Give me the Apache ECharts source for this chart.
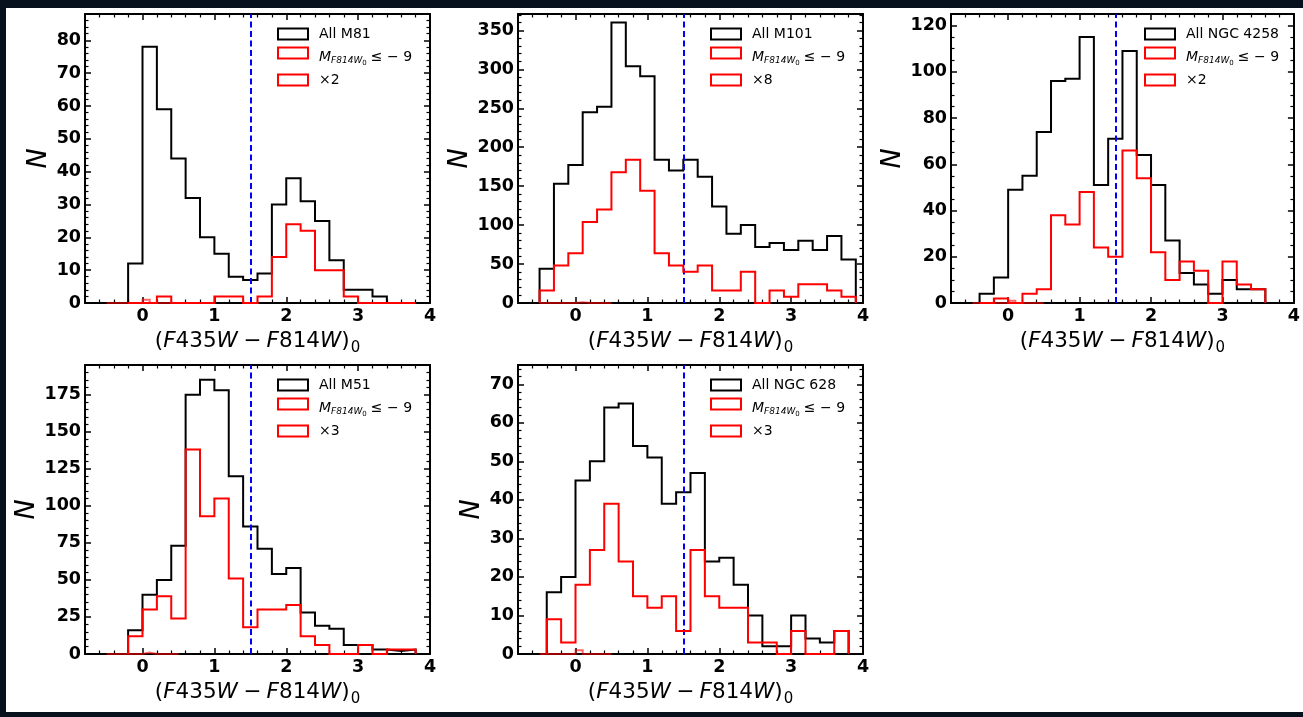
<!DOCTYPE html>
<html><head><meta charset="utf-8">
<script src="https://cdn.jsdelivr.net/npm/echarts@6/dist/echarts.min.js"></script>
<style>
html,body{margin:0;padding:0;width:1303px;height:717px;background:#07111d;overflow:hidden}
#chart{position:absolute;left:6px;top:8px;width:1297px;height:704px;background:#fff}
</style></head><body><div id="chart"></div>
<script>
// ---------------- data ----------------
const BIN = 0.2;
const xTicks = [0, 1, 2, 3, 4];
const galaxies = ['M81', 'M101', 'NGC 4258', 'M51', 'NGC 628'];
const scaleLabels = ['×2', '×8', '×2', '×3', '×3'];
const brightLabel = 'M_F814W0 ≤ −9';

// bin start (left edge of first bin) for each galaxy
const binStarts = [-0.2, -0.5, -0.4, -0.2, -0.4];

// all clusters (black)
const allM81    = [12, 78, 59, 44, 32, 20, 15, 8, 7, 9, 30, 38, 31, 25, 13, 4, 4, 2, 0, 0];
const allM101   = [44, 153, 177, 245, 252, 360, 304, 291, 184, 170, 184, 162, 124, 89, 100, 72, 77, 68, 80, 68, 86, 56];
const allN4258  = [4, 11, 49, 55, 74, 96, 97, 115, 51, 71, 109, 64, 51, 27, 13, 8, 4, 10, 6, 6];
const allM51    = [16, 40, 50, 73, 175, 185, 178, 120, 86, 71, 54, 58, 28, 19, 17, 6, 6, 3, 2, 3];
const allN628   = [16, 20, 45, 50, 64, 65, 54, 51, 39, 42, 47, 24, 25, 18, 10, 2, 2, 10, 4, 3, 6];

// bright clusters, scaled (red)
const brightM81   = [0, 0, 2, 0, 0, 0, 2, 2, 0, 2, 14, 24, 22, 10, 10, 2, 0, 0, 0, 0];
const brightM101  = [16, 48, 64, 104, 120, 168, 184, 144, 64, 48, 40, 48, 16, 16, 40, 0, 16, 8, 24, 24, 16, 8];
const brightN4258 = [0, 2, 0, 4, 6, 38, 34, 48, 24, 20, 66, 54, 22, 10, 18, 14, 0, 18, 8, 6];
const brightM51   = [12, 30, 39, 24, 138, 93, 105, 51, 18, 30, 30, 33, 12, 6, 0, 0, 6, 0, 3, 3];
const brightN628  = [9, 3, 18, 27, 39, 24, 15, 12, 15, 6, 27, 15, 12, 12, 3, 3, 0, 6, 0, 0, 6];

// unscaled bright histogram (faint red near zero)
const faintStart = -0.5;
const faintBin = 0.1;
const faintCounts = [0, 0, 0, 0, 0, 1, 0, 0, 0, 0];

const cutColour = 1.5;
const yMax = [88, 371, 125, 195, 75];
const yStep = [10, 50, 20, 25, 10];
const yMinorSplit = [5, 5, 4, 5, 5];

const allSets = [allM81, allM101, allN4258, allM51, allN628];
const brightSets = [brightM81, brightM101, brightN4258, brightM51, brightN628];

// ---------------- layout ----------------
const OX = 6, OY = 8;
const gridPos = [[85, 14], [518, 14], [951, 14], [85, 365], [518, 365]];
const legPos = [[277, 23], [710, 23], [1144, 23], [277, 374], [710, 374]];
const GW = 345, GH = 289;
const FONT = 'DejaVu Sans';

function stepData(start, w, counts) {
  const pts = [[start, 0]];
  counts.forEach((c, i) => pts.push([+(start + i * w).toFixed(3), c]));
  const end = +(start + counts.length * w).toFixed(3);
  pts.push([end, counts[counts.length - 1]]);
  pts.push([end, 0]);
  return pts;
}

const tickLabelStyle = {fontFamily: FONT, fontWeight: 'bold', fontSize: 17.5, color: '#000'};
const axisLineStyle = {show: true, onZero: false, lineStyle: {color: '#000', width: 2}};
const tickStyle = {show: true, inside: true, length: 6, lineStyle: {color: '#000', width: 1.5}};
const minorTickStyle = (n) => ({show: true, splitNumber: n, length: 3.5, lineStyle: {color: '#000', width: 1.2}});

const xNameRich = {
  r: {fontFamily: FONT, fontSize: 21.5, lineHeight: 25, verticalAlign: 'top', color: '#000'},
  i: {fontFamily: FONT, fontStyle: 'italic', fontSize: 21.5, lineHeight: 25, verticalAlign: 'top', color: '#000'},
  s: {fontFamily: FONT, fontSize: 15, lineHeight: 15, padding: [11, 0, 0, 1], verticalAlign: 'top', color: '#000'}
};
const xNameText = '{r|(}{i|F}{r|435}{i|W}{r|\u2005−\u2005}{i|F}{r|814}{i|W}{r|)}{s|0}';

const legRich = {
  i: {fontFamily: FONT, fontStyle: 'italic', fontSize: 14, lineHeight: 14, padding: [4, 0, 4, 0], verticalAlign: 'top', color: '#000'},
  s: {fontFamily: FONT, fontStyle: 'italic', fontSize: 9, lineHeight: 9, padding: [10.5, 0, 0, 0], verticalAlign: 'top', color: '#000'},
  ss: {fontFamily: FONT, fontSize: 7, lineHeight: 7, padding: [13.5, 0, 0, 0], verticalAlign: 'top', color: '#000'},
  n: {fontFamily: FONT, fontSize: 14, lineHeight: 14, padding: [4, 0, 4, 4], verticalAlign: 'top', color: '#000'}
};

const grids = [], xAxes = [], yAxes = [], series = [], legends = [];
galaxies.forEach((g, k) => {
  const [gx, gy] = gridPos[k];
  grids.push({left: gx - OX, top: gy - OY, width: GW, height: GH, containLabel: false});
  const xBase = {
    type: 'value', gridIndex: k, min: -0.8, max: 4, splitNumber: 5, minInterval: 1, maxInterval: 1,
    axisLine: axisLineStyle, axisTick: tickStyle, minorTick: minorTickStyle(5),
    splitLine: {show: false}, minorSplitLine: {show: false}
  };
  xAxes.push(Object.assign({}, xBase, {
    position: 'bottom',
    axisLabel: Object.assign({show: true, margin: 4, showMinLabel: false, showMaxLabel: true,
      formatter: v => (xTicks.indexOf(v) >= 0 ? String(v) : '')}, tickLabelStyle),
    name: xNameText, nameLocation: 'middle', nameGap: 27,
    nameTextStyle: {rich: xNameRich}
  }));
  xAxes.push(Object.assign({}, xBase, {position: 'top', axisLabel: {show: false}}));
  const yBase = {
    type: 'value', gridIndex: k, min: 0, max: yMax[k], interval: yStep[k],
    axisLine: axisLineStyle, axisTick: tickStyle, minorTick: minorTickStyle(yMinorSplit[k]),
    splitLine: {show: false}, minorSplitLine: {show: false}
  };
  yAxes.push(Object.assign({}, yBase, {
    position: 'left',
    axisLabel: Object.assign({show: true, margin: 4, showMinLabel: true, showMaxLabel: false}, tickLabelStyle),
    name: 'N', nameLocation: 'middle', nameGap: 33, nameRotate: 90,
    nameTextStyle: {fontFamily: FONT, fontStyle: 'italic', fontSize: 27, color: '#000'}
  }));
  yAxes.push(Object.assign({}, yBase, {position: 'right', axisLabel: {show: false}}));

  const common = {type: 'line', xAxisIndex: 2 * k, yAxisIndex: 2 * k, step: 'end', symbol: 'none',
    silent: true, animation: false, emphasis: {disabled: true}};
  series.push(Object.assign({}, common, {
    name: 'All ' + g, z: 3,
    data: stepData(binStarts[k], BIN, allSets[k]),
    lineStyle: {color: '#000', width: 2, join: 'miter'}, itemStyle: {color: '#000'}
  }));
  series.push(Object.assign({}, common, {
    name: brightLabel, z: 4,
    data: stepData(faintStart, faintBin, faintCounts),
    lineStyle: {color: '#ff0000', width: 2, opacity: 0.6, join: 'miter'}, itemStyle: {color: '#ff0000'}
  }));
  series.push(Object.assign({}, common, {
    name: scaleLabels[k], z: 5,
    data: stepData(binStarts[k], BIN, brightSets[k]),
    lineStyle: {color: '#ff0000', width: 2, join: 'miter'}, itemStyle: {color: '#ff0000'},
    markLine: {
      silent: true, symbol: 'none', animation: false,
      label: {show: false},
      lineStyle: {color: '#0000ff', width: 2, type: [6, 3.5]},
      data: [{xAxis: cutColour}]
    }
  }));

  const box = (c) => ({color: 'rgba(0,0,0,0)', borderColor: c, borderWidth: 2});
  legends.push({
    orient: 'vertical', left: legPos[k][0] - OX, top: legPos[k][1] - OY, padding: 0,
    itemGap: 1, itemWidth: 30, itemHeight: 11, icon: 'rect', selectedMode: false,
    textStyle: {fontFamily: FONT, fontSize: 14, color: '#000', lineHeight: 22, padding: [0, 0, 0, 6], rich: legRich},
    formatter: name => name === brightLabel ? '{i|M}{s|F814W}{ss|0}{n|≤ − 9}' : name,
    data: [
      {name: 'All ' + g, itemStyle: box('#000')},
      {name: brightLabel, itemStyle: box('#ff0000')},
      {name: scaleLabels[k], itemStyle: box('#ff0000')}
    ]
  });
});

const chart = echarts.init(document.getElementById('chart'), null, {renderer: 'canvas'});
chart.setOption({
  backgroundColor: '#ffffff',
  animation: false,
  grid: grids, xAxis: xAxes, yAxis: yAxes, series: series, legend: legends
});
</script></body></html>
